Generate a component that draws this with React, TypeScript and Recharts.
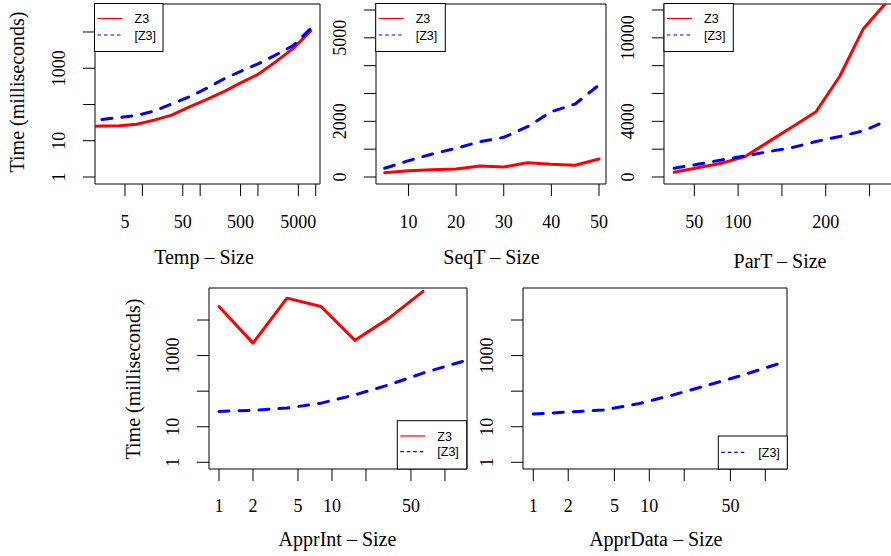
import React from 'react';
import { LineChart, Line, XAxis, YAxis, ReferenceArea } from 'recharts';

const SERIF = '"Liberation Serif", "Times New Roman", serif';
const SANS = '"Liberation Sans", Arial, sans-serif';
const RED = '#ff0000';
const BLUE = '#0000ff';

// Temp
const tempSizeZ3 = [1, 2, 4, 8, 16, 32, 64, 128, 256, 512, 1024, 2048, 4096, 8192];
const tempTimeZ3 = [25, 25.5, 26, 28.5, 37, 51, 84, 137, 225, 400, 690, 1520, 3530, 10700];
const tempSizeBZ3 = [2, 4, 8, 16, 32, 64, 128, 256, 512, 1024, 2048, 4096, 8192];
const tempTimeBZ3 = [38.5, 44, 50, 66, 103, 161, 277, 505, 830, 1340, 2330, 4260, 12500];
const tempXTicks = [5, 10, 50, 100, 500, 1000, 5000, 10000];
const tempXLabels = [5, 50, 500, 5000];

// SeqT
const seqSize = [5, 10, 15, 20, 25, 30, 35, 40, 45, 50];
const seqTimeZ3 = [155, 227, 263, 287, 395, 359, 514, 456, 420, 647];
const seqTimeBZ3 = [313, 586, 826, 1031, 1269, 1426, 1808, 2347, 2623, 3306];
const seqXTicks = [10, 20, 30, 40, 50];
const seqYTicks = [0, 1000, 2000, 3000, 4000, 5000, 6000];
const seqYLabels = [0, 2000, 5000];

// ParT
const parSizeZ3 = [27, 54, 81, 108, 135, 162, 189, 216, 243, 270];
const parTimeZ3 = [340, 660, 984, 1468, 2543, 3617, 4692, 7240, 10660, 12600];
const parSizeBZ3 = [27, 54, 81, 108, 135, 162, 189, 216, 243, 262];
const parTimeBZ3 = [628, 915, 1227, 1516, 1829, 2118, 2550, 2910, 3321, 3827];
const parXTicks = [50, 100, 150, 200, 250];
const parXLabels = [50, 100, 200];
const parYTicks = [0, 2000, 4000, 6000, 8000, 10000, 12000];
const parYLabels = [0, 4000, 10000];

// ApprInt
const apprIntSizeZ3 = [1, 2, 4, 8, 16, 32, 64];
const apprIntTimeZ3 = [24000, 2240, 41200, 24000, 2680, 11300, 63600];
const apprIntSizeBZ3 = [1, 2, 4, 8, 16, 32, 64, 144];
const apprIntTimeBZ3 = [27, 29, 33.5, 46, 79, 151, 323, 690];

// ApprData
const apprDataSizeBZ3 = [1, 2, 4, 8, 16, 32, 64, 128];
const apprDataTimeBZ3 = [22.7, 25.9, 29.5, 44, 78, 148, 283, 580];

const apprXTicks = [1, 2, 5, 10, 20, 50, 100];
const apprXLabels = [1, 2, 5, 10, 50];
const logYTicks = [1, 10, 100, 1000, 10000];
const logYLabels = [1, 10, 1000];

const zip = (xs: number[], ys: number[]) => xs.map((x, i) => ({ x, y: ys[i] }));

type Series = { name: string; data: { x: number; y: number }[]; color: string; dashed: boolean };

type Panel = {
  id: string;
  box: [number, number, number, number];
  logX: boolean;
  logY: boolean;
  xDomain: [number, number];
  yDomain: [number, number];
  xTicks: number[];
  xLabels: number[];
  yTicks: number[];
  yLabels: number[];
  labelBase: number;
  series: Series[];
};

const W = 900;
const H = 556;

const panels: Panel[] = [
  {
    id: 'temp',
    box: [95, 4, 320, 184],
    logX: true,
    logY: true,
    xDomain: [10 ** 0.18, 10 ** 4.074],
    yDomain: [10 ** -0.193, 10 ** 4.772],
    xTicks: tempXTicks,
    xLabels: tempXLabels,
    yTicks: logYTicks,
    yLabels: logYLabels,
    labelBase: 228,
    series: [
      { name: 'Z3', data: zip(tempSizeZ3, tempTimeZ3), color: RED, dashed: false },
      { name: '[Z3]', data: zip(tempSizeBZ3, tempTimeBZ3), color: BLUE, dashed: true },
    ],
  },
  {
    id: 'seq',
    box: [376, 4, 606, 184],
    logX: false,
    logY: false,
    xDomain: [3.18, 51.47],
    yDomain: [-251.5, 6216],
    xTicks: seqXTicks,
    xLabels: seqXTicks,
    yTicks: seqYTicks,
    yLabels: seqYLabels,
    labelBase: 228,
    series: [
      { name: 'Z3', data: zip(seqSize, seqTimeZ3), color: RED, dashed: false },
      { name: '[Z3]', data: zip(seqSize, seqTimeBZ3), color: BLUE, dashed: true },
    ],
  },
  {
    id: 'par',
    box: [664, 4, 896, 184],
    logX: false,
    logY: false,
    xDomain: [15.4, 280.2],
    yDomain: [-503, 12431],
    xTicks: parXTicks,
    xLabels: parXLabels,
    yTicks: parYTicks,
    yLabels: parYLabels,
    labelBase: 228,
    series: [
      { name: 'Z3', data: zip(parSizeZ3, parTimeZ3), color: RED, dashed: false },
      { name: '[Z3]', data: zip(parSizeBZ3, parTimeBZ3), color: BLUE, dashed: true },
    ],
  },
  {
    id: 'apprint',
    box: [209, 288, 467, 469],
    logX: true,
    logY: true,
    xDomain: [10 ** -0.0885, 10 ** 2.195],
    yDomain: [10 ** -0.188, 10 ** 4.9],
    xTicks: apprXTicks,
    xLabels: apprXLabels,
    yTicks: logYTicks,
    yLabels: logYLabels,
    labelBase: 512,
    series: [
      { name: 'Z3', data: zip(apprIntSizeZ3, apprIntTimeZ3), color: RED, dashed: false },
      { name: '[Z3]', data: zip(apprIntSizeBZ3, apprIntTimeBZ3), color: BLUE, dashed: true },
    ],
  },
  {
    id: 'apprdata',
    box: [523, 288, 787, 469],
    logX: true,
    logY: true,
    xDomain: [10 ** -0.0888, 10 ** 2.187],
    yDomain: [10 ** -0.188, 10 ** 4.9],
    xTicks: apprXTicks,
    xLabels: apprXLabels,
    yTicks: logYTicks,
    yLabels: logYLabels,
    labelBase: 512,
    series: [{ name: '[Z3]', data: zip(apprDataSizeBZ3, apprDataTimeBZ3), color: BLUE, dashed: true }],
  },
];

const titles = [
  { text: 'Temp – Size', x: 204, y: 264 },
  { text: 'SeqT – Size', x: 491.5, y: 264 },
  { text: 'ParT – Size', x: 780, y: 268 },
  { text: 'ApprInt – Size', x: 337.5, y: 546 },
  { text: 'ApprData – Size', x: 655.8, y: 546 },
];

const yTitles = [
  { text: 'Time (milliseconds)', x: 24, y: 92 },
  { text: 'Time (milliseconds)', x: 139.5, y: 379 },
];

const legends = [
  { left: 94.5, top: 3.5, w: 68.5, h: 48, rows: [{ label: 'Z3', color: RED, dashed: false, dy: 15 }, { label: '[Z3]', color: BLUE, dashed: true, dy: 31.5 }] },
  { left: 375.7, top: 3.5, w: 69.6, h: 48, rows: [{ label: 'Z3', color: RED, dashed: false, dy: 15 }, { label: '[Z3]', color: BLUE, dashed: true, dy: 31.5 }] },
  { left: 664, top: 3.5, w: 69.3, h: 48, rows: [{ label: 'Z3', color: RED, dashed: false, dy: 15 }, { label: '[Z3]', color: BLUE, dashed: true, dy: 31.5 }] },
  { left: 397.3, top: 420.7, w: 69.4, h: 48.3, rows: [{ label: 'Z3', color: RED, dashed: false, dy: 15.3 }, { label: '[Z3]', color: BLUE, dashed: true, dy: 31 }] },
  { left: 718.3, top: 436, w: 69, h: 33, rows: [{ label: '[Z3]', color: BLUE, dashed: true, dy: 16.3 }] },
];

const makeXTick = (labels: number[], baseline: number) => (props: any) => {
  const { x, payload } = props;
  if (!labels.includes(payload.value)) return <g />;
  return (
    <text x={x} y={baseline} textAnchor="middle" fontFamily={SERIF} fontSize={18} fill="#000">
      {payload.value}
    </text>
  );
};

const makeYTick = (labels: number[], baseX: number) => (props: any) => {
  const { y, payload } = props;
  if (!labels.includes(payload.value)) return <g />;
  return (
    <text
      x={baseX}
      y={y}
      transform={`rotate(-90 ${baseX} ${y})`}
      textAnchor="middle"
      fontFamily={SERIF}
      fontSize={18}
      fill="#000"
    >
      {payload.value}
    </text>
  );
};

function PanelChart({ p }: { p: Panel }) {
  const [left, top, right, bottom] = p.box;
  const yW = 40;
  const xH = 30;
  return (
    <div style={{ position: 'absolute', left: 0, top: 0 }}>
      <LineChart
        width={W}
        height={H}
        margin={{ top, left: left - yW, right: W - right, bottom: H - bottom - xH }}
      >
        <XAxis
          dataKey="x"
          type="number"
          scale={p.logX ? 'log' : 'linear'}
          domain={p.xDomain}
          allowDataOverflow
          ticks={p.xTicks}
          interval={0}
          height={xH}
          tickSize={12}
          axisLine={false}
          tickLine={{ stroke: '#000' }}
          tick={makeXTick(p.xLabels, p.labelBase)}
        />
        <YAxis
          type="number"
          scale={p.logY ? 'log' : 'linear'}
          domain={p.yDomain}
          allowDataOverflow
          ticks={p.yTicks}
          interval={0}
          width={yW}
          tickSize={12}
          axisLine={false}
          tickLine={{ stroke: '#000' }}
          tick={makeYTick(p.yLabels, left - 29.5)}
        />
        <ReferenceArea
          x1={p.xDomain[0]}
          x2={p.xDomain[1]}
          y1={p.yDomain[0]}
          y2={p.yDomain[1]}
          ifOverflow="visible"
          fill="none"
          fillOpacity={0}
          stroke="#000"
          strokeWidth={1}
        />
        {p.series.map((s) => (
          <Line
            key={s.name}
            data={s.data}
            dataKey="y"
            name={s.name}
            type="linear"
            stroke={s.color}
            strokeWidth={3}
            strokeDasharray={s.dashed ? '10 10' : undefined}
            strokeLinecap="round"
            strokeLinejoin="round"
            dot={false}
            activeDot={false}
            isAnimationActive={false}
          />
        ))}
      </LineChart>
    </div>
  );
}

export default function App() {
  return (
    <div
      style={{
        position: 'absolute',
        left: 0,
        top: 0,
        width: 891,
        height: 556,
        overflow: 'hidden',
        background: '#fff',
      }}
    >
      {panels.map((p) => (
        <PanelChart key={p.id} p={p} />
      ))}
      <svg width={891} height={556} style={{ position: 'absolute', left: 0, top: 0, pointerEvents: 'none' }}>
        {titles.map((t) => (
          <text key={t.text} x={t.x} y={t.y} textAnchor="middle" fontFamily={SERIF} fontSize={20} fill="#000">
            {t.text}
          </text>
        ))}
        {yTitles.map((t, i) => (
          <text
            key={i}
            x={t.x}
            y={t.y}
            transform={`rotate(-90 ${t.x} ${t.y})`}
            textAnchor="middle"
            fontFamily={SERIF}
            fontSize={20}
            fill="#000"
          >
            {t.text}
          </text>
        ))}
        {legends.map((l, i) => (
          <g key={i}>
            <rect x={l.left} y={l.top} width={l.w} height={l.h} fill="#fff" stroke="#000" strokeWidth={1} />
            {l.rows.map((r) => (
              <g key={r.label}>
                <line
                  x1={l.left + 3}
                  x2={l.left + 28}
                  y1={l.top + r.dy}
                  y2={l.top + r.dy}
                  stroke={r.color}
                  strokeWidth={1.2}
                  strokeDasharray={r.dashed ? '3.5 3' : undefined}
                />
                <text x={l.left + 40} y={l.top + r.dy + 4.5} fontFamily={SANS} fontSize={12.5} fill="#000">
                  {r.label}
                </text>
              </g>
            ))}
          </g>
        ))}
      </svg>
    </div>
  );
}
